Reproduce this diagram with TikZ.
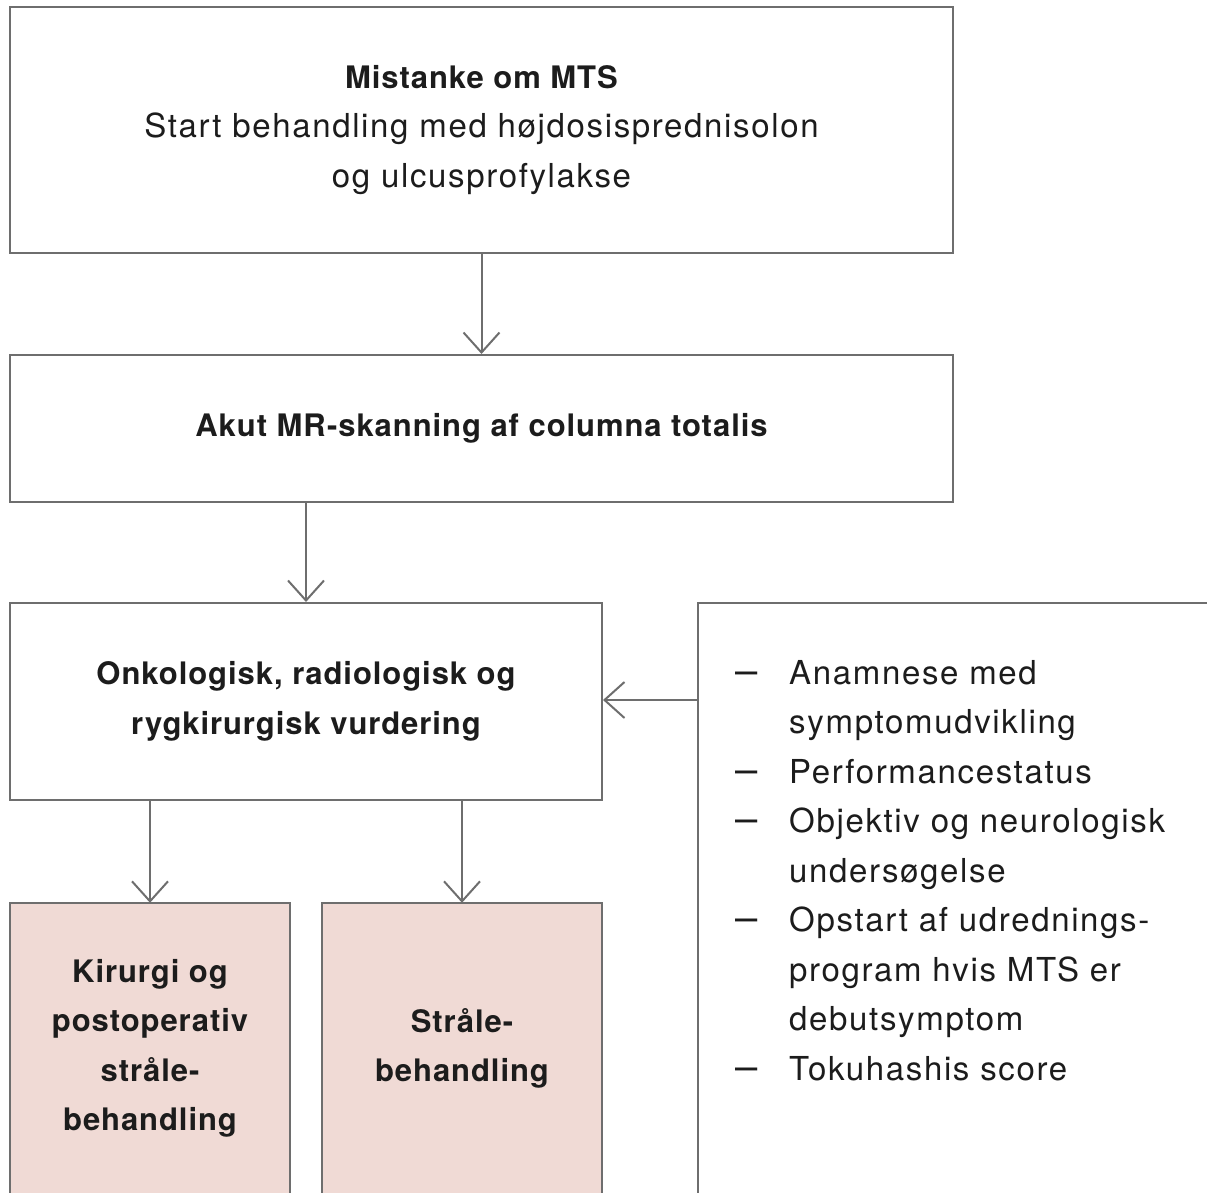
\documentclass[tikz,border=0pt]{standalone}
\usepackage{fontspec}
\setmainfont{TeX Gyre Heros}[LetterSpace=5, BoldFeatures={LetterSpace=3}]
\usetikzlibrary{arrows.meta}
\definecolor{linegray}{HTML}{6E6E6E}
\definecolor{pinkfill}{HTML}{F0DAD5}
\definecolor{txt}{HTML}{1C1C1C}
\newcommand{\hd}[1]{{\fontsize{31}{49.5}\selectfont\bfseries #1}}
\newcommand{\itm}{\makebox[54pt][l]{\fontsize{40}{0}\selectfont –}}
\begin{document}
\begin{tikzpicture}[x=1pt,y=-1pt,
  box/.style={draw=linegray, line width=2pt, inner sep=0pt, text=txt, align=center,
    font=\fontsize{33}{49.5}\selectfont},
  openbox/.style={inner sep=0pt, text=txt, align=center,
    font=\fontsize{31}{49.5}\selectfont\bfseries},
  side/.style={draw=linegray, line width=2pt},
  arr/.style={draw=linegray, line width=2pt, -{Straight Barb[length=20pt,width=36pt,line width=2pt]}}]
\useasboundingbox (0,0) rectangle (1207,1193);
\clip (0,0) rectangle (1207,1193);

\node[box, minimum width=943pt, minimum height=246pt] (top) at (481.5,130)
  {\hd{Mistanke om MTS}\\Start behandling med højdosisprednisolon\\og ulcusprofylakse};
\node[box, minimum width=943pt, minimum height=147pt] (mr) at (481.5,428.5)
  {\hd{Akut MR-skanning af columna totalis}};
\node[box, minimum width=592pt, minimum height=197pt] (onk) at (306,701.5)
  {\hd{Onkologisk, radiologisk og}\\\hd{rygkirurgisk vurdering}};

\node[openbox, fill=pinkfill, minimum width=280pt, minimum height=291pt] (kir) at (150,1048.5)
  {Kirurgi og\\postoperativ\\stråle-\\behandling};
\draw[side] (kir.south west) -- (kir.north west) -- (kir.north east) -- (kir.south east);
\node[openbox, fill=pinkfill, minimum width=280pt, minimum height=291pt] (str) at (462,1048.5)
  {Stråle-\\behandling};
\draw[side] (str.south west) -- (str.north west) -- (str.north east) -- (str.south east);

\node[inner sep=0pt, anchor=north west, minimum width=520pt, minimum height=600pt] (crit) at (698,603) {};
\draw[side] (crit.south west) -- (crit.north west) -- (crit.north east);
\node[inner sep=0pt, anchor=north west, align=left, text=txt,
  font=\fontsize{33}{49.5}\selectfont] (list) at (735,660)
  {\itm Anamnese med\\
   \hspace*{54pt}symptomudvikling\\
   \itm Performancestatus\\
   \itm Objektiv og neurologisk\\
   \hspace*{54pt}undersøgelse\\
   \itm Opstart af udrednings-\\
   \hspace*{54pt}program hvis MTS er\\
   \hspace*{54pt}debutsymptom\\
   \itm Tokuhashis score};
\coordinate (cin) at (698,700);

\draw[arr] (top.south -| mr.north) -- (mr.north);
\draw[arr] (onk.north |- mr.south) -- (onk.north);
\draw[arr] (kir.north |- onk.south) -- (kir.north);
\draw[arr] (str.north |- onk.south) -- (str.north);
\draw[arr] (cin) -- (cin -| onk.east);
\end{tikzpicture}
\end{document}
